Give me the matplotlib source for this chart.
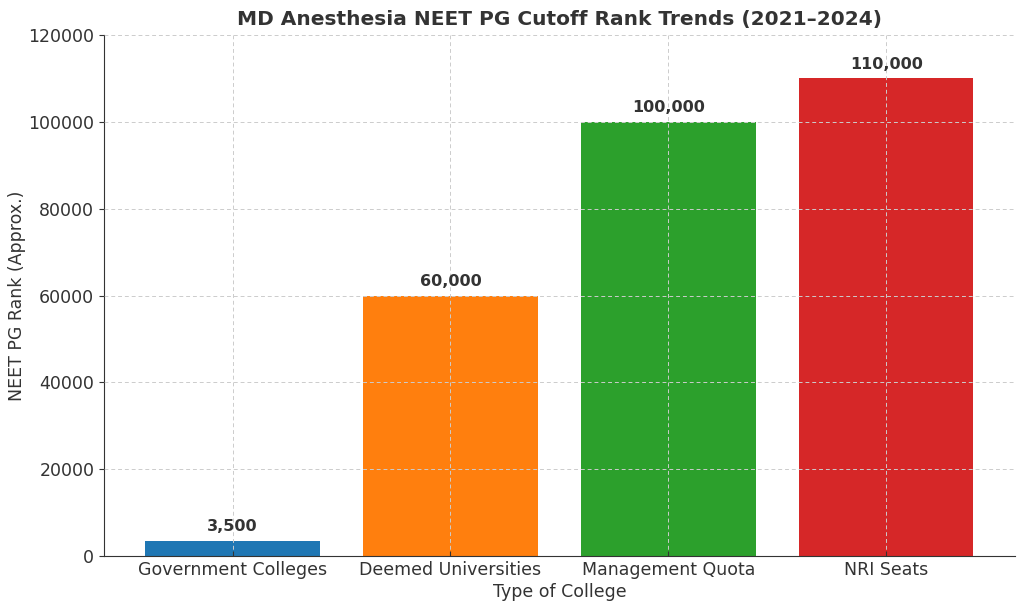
import matplotlib.pyplot as plt

categories = ["Government Colleges", "Deemed Universities", "Management Quota", "NRI Seats"]
ranks = [3500, 60000, 100000, 110000]
colors = ["#1f77b4", "#ff7f0e", "#2ca02c", "#d62728"]

plt.rcParams["text.color"] = "#333333"
plt.rcParams["axes.labelcolor"] = "#333333"
plt.rcParams["xtick.color"] = "#333333"
plt.rcParams["ytick.color"] = "#333333"
plt.rcParams["axes.edgecolor"] = "#333333"

fig, ax = plt.subplots(figsize=(10.24, 6.11), dpi=100)
bars = ax.bar(categories, ranks, color=colors, width=0.8)

for b, v in zip(bars, ranks):
    ax.text(b.get_x() + b.get_width() / 2, v + 1500, f"{v:,}",
            ha="center", va="bottom", fontsize=11.5, fontweight="bold")

ax.set_title("MD Anesthesia NEET PG Cutoff Rank Trends (2021\u20132024)",
             fontsize=14.5, fontweight="bold", pad=7)
ax.set_xlabel("Type of College", fontsize=12.5, labelpad=3)
ax.set_ylabel("NEET PG Rank (Approx.)", fontsize=12.5, labelpad=2)
ax.set_ylim(0, 120000)
ax.tick_params(axis="both", labelsize=12.5)
ax.tick_params(axis="x", direction="in")
ax.grid(True, linestyle="--", color="#cccccc", linewidth=0.7, dashes=(4, 3))
ax.set_axisbelow(False)
ax.spines["top"].set_visible(False)
ax.spines["right"].set_visible(False)

fig.subplots_adjust(left=0.1016, right=0.991, top=0.9427, bottom=0.090)
plt.savefig("out.png")
